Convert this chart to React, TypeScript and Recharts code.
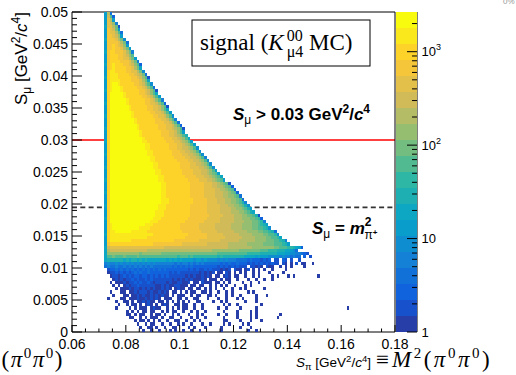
import React from 'react';
import { ScatterChart, Scatter, XAxis, YAxis, ReferenceLine } from 'recharts';

const SANS = '"Liberation Sans", Arial, Helvetica, sans-serif';
const SERIF = '"Liberation Serif", "Times New Roman", serif';

const WIDTH = 516;
const HEIGHT = 375;
const PLOT_LEFT = 72;
const PLOT_RIGHT = 395;
const PLOT_TOP = 12;
const PLOT_BOTTOM = 332;
const BAR_WIDTH = 21;

// axis ranges
const X_RANGE = [0.06, 0.18];
const Y_RANGE = [0, 0.05];

// histogram binning: first occupied S_pi bin edge and bin widths
const X_FIRST_BIN = 0.072;
const X_BIN = 0.001;
const Y_BIN = 0.0005;

// colour axis (log scale, 20 contours)
const Z_MIN = 1;
const Z_MAX = 2660;
const N_CONTOURS = 20;

const xMajorTicks = [0.06, 0.08, 0.1, 0.12, 0.14, 0.16, 0.18];
const xTickLabels = ['0.06', '0.08', '0.1', '0.12', '0.14', '0.16', '0.18'];
const xMinorTicks = [0.065, 0.07, 0.075, 0.085, 0.09, 0.095, 0.105, 0.11, 0.115, 0.125, 0.13, 0.135, 0.145, 0.15, 0.155, 0.165, 0.17, 0.175];

const yMajorTicks = [0, 0.005, 0.01, 0.015, 0.02, 0.025, 0.03, 0.035, 0.04, 0.045, 0.05];
const yTickLabels = ['0', '0.005', '0.01', '0.015', '0.02', '0.025', '0.03', '0.035', '0.04', '0.045', '0.05'];
const yMinorTicks = [
  0.001, 0.002, 0.003, 0.004, 0.006, 0.007, 0.008, 0.009, 0.011, 0.012, 0.013, 0.014,
  0.016, 0.017, 0.018, 0.019, 0.021, 0.022, 0.023, 0.024, 0.026, 0.027, 0.028, 0.029,
  0.031, 0.032, 0.033, 0.034, 0.036, 0.037, 0.038, 0.039, 0.041, 0.042, 0.043, 0.044,
  0.046, 0.047, 0.048, 0.049,
];

const zMajorTicks = [1, 10, 100, 1000];
const zTickLabels = [['1', ''], ['10', ''], ['10', '2'], ['10', '3']];
const zMinorTicks = [2, 3, 4, 5, 6, 7, 8, 9, 20, 30, 40, 50, 60, 70, 80, 90, 200, 300, 400, 500, 600, 700, 800, 900, 2000];

// reference lines
const S_MU_CUT = 0.03;
const M_PI_CHARGED_SQ = 0.01948;

// Contour level per bin, one string per S_mu row (bottom row first), one character per S_pi bin
// starting at X_FIRST_BIN. '.' = empty, '0'..'9','a'..'j' = contour 0..19.
const tailRows = [
  /* 0 */ '..............0..0..0...0.0..0..0..0.......0.........0..0......',
  /* 1 */ '.............0..00.0..0..00....0.0...0.....0......0...0......',
  /* 2 */ '............0..0.00..0..0..0.0..0...0..0....0.0....0.0......',
  /* 3 */ '...........0.00.0.0.0..0..00..0..0.0........00....0...0...0...',
  /* 4 */ '.........00..0.0.000.0..00..0...0.0..0......0....0....0.0.......0',
  /* 5 */ '........00.0.00..0.00.0..0.0...0..0.0.....0..0...0....0.0........0',
  /* 6 */ '........0.0.0.00.00..0.0.00..0..0.0..0......0....0....0.0...',
  /* 7 */ '....0....0.0.000.0100..0.0.0.00..0..0.....0..0....0.....0.................................0',
  /* 8 */ '.....0..0.00.0.010.0.010..00.00..0..0.......0.0..0........0..',
  /* 9 */ '....0..00.0.0010100.00.0.0.0.0.0..00....0..0.0......0...0...',
  /* 10 */ '.0....00.000100101010.000..00.0..00...0...0..0...0.0....0...',
  /* 11 */ '...0...00.00101001010100.0.000..0.00..00.0...0.0..0.....0...0',
  /* 12 */ '..0...00.001011101001010.00.0.0.00..00.0..0..0.0.....0.0....',
  /* 13 */ '....0.0001011010101001010.0100.00.00.0.0.0..0..0..0.0......0.',
  /* 14 */ '...0.0.010112111111001010011000.00.00..0.0.0.0..0...0.0.....',
  /* 15 */ '..0.0001011212112101111010011001.00.1000.00.0.0....0..0..0.',
  /* 16 */ '...01010112121121211111110101010100010.000.0.00..0...0..0..0..0',
  /* 17 */ '..01101212122122121212121111110101001010.00.010.00..0..0.0....0.0...0.0........0',
  /* 18 */ '.0112121212323223222222212121111111010101.00.10.0.0.0..0.0...0....0...',
  /* 19 */ '.1223232323232323232323222222221212112121110101.100.01.0.0.0..0....0..',
  /* 20 */ '34334334343434343433333332323232322222222212121212111.11010.100..0.0.0....0.',
  /* 21 */ '45445454545454545454444444343443434343333332323223222121212121211.10.0.1.00..0',
];

const bandRows = [
  /* 22 */ '78888887878878787777777676767666656656555545454443333232221212.11.21.1..1',
  /* 23 */ '7aabaaabaaaabaaaaaaaaaaaaaa9aaa9a9999999998988888888777767666555545443433.2.1',
  /* 24 */ '7ccccccccccccbcccccccbbbbbbbbbbbbbbbbbbbbbaaaaaaaaaaa99999888888777665544321',
  /* 25 */ '7deeeeeeeeeeeeeeddddddddddddddddddddddddccccccccccbbbbbbbbaaa99988877653',
  /* 26 */ '7effffffffffffffffffffeeeeeeeeeeeeeeeeeeeeeeeedddddddddccccccccbbaaa998762',
  /* 27 */ '6ghhhhhhhhhhhhhhhhgggggggggggfffffffffeeeeeeeedddddddccccccbbbbaaa986',
  /* 28 */ '6hiiiiiiiihhhhhhhhhhhhhhhhgggggggggffffffffeeeeeeeddddddccccbbbaa984',
  /* 29 */ '6hiiiiiiiiiiiiiihhhhhhhhhhhhhhggggggggfffffffeeeeeedddddccccbbaa97',
  /* 30 */ '7hiiiiiiiiiiiiiiiihhhhhhhhhhhhhgggggggffffffeeeeeedddddccccbbaa95',
  /* 31 */ '6hiijjjjjjiiiiiihhhhhhhhhhhhhgggggggffffffeeeeeedddddccccbbaa983',
  /* 32 */ '6hijjjjjjjjjjiiiihhhhhhhhhhhgggggggffffffeeeeeeddddccccbbaa985',
  /* 33 */ '6hijjjjjjjjjjjjiiihhhhhhhhhhgggggggffffffeeeeeeddddccccbba986',
];

const coreRows = [
  /* 34 */ '6hjjjjjjjjjjjjjjjiiihhhhhhhhhhgggggggffffffeeeeeddddcccbba94',
  /* 35 */ '7hjjjjjjjjjjjjjjjjiiihhhhhhhhhhgggggggfffffeeeeedddcccbba92',
  /* 36 */ '6hjjjjjjjjjjjjjjjjjiiihhhhhhhhhhgggggggfffffeeeedddccbba81',
  /* 37 */ '6hjjjjjjjjjjjjjjjjjiiihhhhhhhhhhggggggfffffeeeedddccba87',
  /* 38 */ '6hjjjjjjjjjjjjjjjjjjiiihhhhhhhhhggggggfffffeeeeddccba86',
  /* 39 */ '7hjjjjjjjjjjjjjjjjjjiiihhhhhhhhhggggggfffffeeeddccba85',
  /* 40 */ '6hjjjjjjjjjjjjjjjjjjjiiihhhhhhhhhgggggffffeeeddccba84',
  /* 41 */ '6hjjjjjjjjjjjjjjjjjjjiiihhhhhhhhhgggggffffeeeddccba3',
  /* 42 */ '6hjjjjjjjjjjjjjjjjjjjiihhhhhhhhhgggggffffeeeddccba3',
  /* 43 */ '7hjjjjjjjjjjjjjjjjjjjiihhhhhhhhhgggggffffeeeddcba2',
  /* 44 */ '6hjjjjjjjjjjjjjjjjjjjiihhhhhhhhhgggggffffeeddcba2',
  /* 45 */ '6hjjjjjjjjjjjjjjjjjjjiihhhhhhhhhgggggfffeeddcba2',
  /* 46 */ '6hjjjjjjjjjjjjjjjjjjjiihhhhhhhhhgggggfffeedcba1',
  /* 47 */ '7hjjjjjjjjjjjjjjjjjjiihhhhhhhhhggggfffeedcba6',
  /* 48 */ '6hjjjjjjjjjjjjjjjjjjiihhhhhhhhggggfffeedcba7',
  /* 49 */ '6hjjjjjjjjjjjjjjjjjiihhhhhhhhggggfffeedcba6',
  /* 50 */ '6hjjjjjjjjjjjjjjjjjiihhhhhhhhggggfffeedca6',
  /* 51 */ '7hjjjjjjjjjjjjjjjjiihhhhhhhhggggfffeedca5',
  /* 52 */ '6hjjjjjjjjjjjjjjjjiihhhhhhhhggggffeedca5',
  /* 53 */ '6hjjjjjjjjjjjjjjjiihhhhhhhhggggffeedca5',
  /* 54 */ '6hjjjjjjjjjjjjjjjiihhhhhhhggggffeedca4',
  /* 55 */ '7hjjjjjjjjjjjjjjiihhhhhhhggggffeedca5',
  /* 56 */ '6hjjjjjjjjjjjjjjiihhhhhhhgggffeedca5',
  /* 57 */ '6hjjjjjjjjjjjjjiihhhhhhhgggffeedca5',
  /* 58 */ '6hjjjjjjjjjjjjjiihhhhhhhgggffedca6',
  /* 59 */ '7hjjjjjjjjjjjjiihhhhhhhgggffedca6',
  /* 60 */ '6hjjjjjjjjjjjjihhhhhhhgggffedca7',
];

const apexRows = [
  /* 61 */ '6hjjjjjjjjjjjihhhhhhhgggffedca8',
  /* 62 */ '6hjjjjjjjjjjjihhhhhhhgggffeca6',
  /* 63 */ '7hjjjjjjjjjjihhhhhhhgggffedca1',
  /* 64 */ '6hjjjjjjjjjjihhhhhhhgggffeca2',
  /* 65 */ '6hjjjjjjjjjihhhhhhhgggffeca3',
  /* 66 */ '6hjjjjjjjjjihhhhhhhggffeca4',
  /* 67 */ '7hjjjjjjjjihhhhhhhggffeca5',
  /* 68 */ '6hjjjjjjjjihhhhhhggffeca6',
  /* 69 */ '6hjjjjjjjihhhhhhggffeca7',
  /* 70 */ '6hjjjjjjjihhhhhhggffeca1',
  /* 71 */ '7hjjjjjjihhhhhhggffeca2',
  /* 72 */ '6hjjjjjjihhhhhhggfeca4',
  /* 73 */ '6hjjjjjihhhhhhggfeca6',
  /* 74 */ '6hjjjjjihhhhhggfeca7',
  /* 75 */ '7hijjjihhhhhhggfeca1',
  /* 76 */ '6hijjjihhhhhggfeca3',
  /* 77 */ '6hijjihhhhhggfeca5',
  /* 78 */ '6hiiiihhhhgggfdb7',
  /* 79 */ '7hiiihhhhhggfeca1',
  /* 80 */ '6hiiihhhhggfedb3',
  /* 81 */ '6hiihhhhggffdb5',
  /* 82 */ '6ghihhhhggfdb7',
  /* 83 */ '7ghihhhggfeca2',
  /* 84 */ '6ghhhhgggfdb4',
  /* 85 */ '6ghhhggffdb6',
  /* 86 */ '6ghhhggfeca',
  /* 87 */ '7ghhgggfdb4',
  /* 88 */ '6gghggfdb6',
  /* 89 */ '6gghgfec6',
  /* 90 */ '6ggggfdb3',
  /* 91 */ '7gggfdb5',
  /* 92 */ '6ggfec6',
  /* 93 */ '6gffda3',
  /* 94 */ '6gfeb6',
  /* 95 */ '7ffdb1',
  /* 96 */ '6fec4',
  /* 97 */ '6fd6',
  /* 98 */ '6ea2',
  /* 99 */ '6d3',
];

// kBird palette stops
const birdStops = [0, 0.125, 0.25, 0.375, 0.5, 0.625, 0.75, 0.875, 1];
const birdRed = [0.2082, 0.0592, 0.078, 0.0232, 0.1802, 0.5301, 0.8186, 0.9956, 0.9764];
const birdGreen = [0.1664, 0.3599, 0.5041, 0.6419, 0.7178, 0.7492, 0.7328, 0.7862, 0.9832];
const birdBlue = [0.5293, 0.8684, 0.8385, 0.7914, 0.6425, 0.4662, 0.3499, 0.1968, 0.0539];

function birdColor(t: number): string {
  let s = 0;
  while (s < birdStops.length - 2 && t > birdStops[s + 1]) s++;
  const f = (t - birdStops[s]) / (birdStops[s + 1] - birdStops[s]);
  const ch = (arr: number[]) => Math.round(255 * (arr[s] + (arr[s + 1] - arr[s]) * f));
  return `rgb(${ch(birdRed)},${ch(birdGreen)},${ch(birdBlue)})`;
}

const contourColors = Array.from({ length: N_CONTOURS }, (_, k) =>
  birdColor(Math.floor(((k + 0.99) * 255) / N_CONTOURS) / 254),
);

const LOG_SPAN = Math.log10(Z_MAX / Z_MIN);
const contourBands = contourColors.map((_, k) => ({
  x: 0.5,
  z: Z_MIN * Math.pow(10, ((k + 0.5) * LOG_SPAN) / N_CONTOURS),
  level: k,
}));

const histogramRows = [...tailRows, ...bandRows, ...coreRows, ...apexRows];
const cells: { x: number; y: number; level: number }[] = [];
histogramRows.forEach((row, j) => {
  for (let i = 0; i < row.length; i++) {
    const c = row[i];
    if (c === '.') continue;
    cells.push({ x: X_FIRST_BIN + (i + 0.5) * X_BIN, y: (j + 0.5) * Y_BIN, level: parseInt(c, 20) });
  }
});

const CELL_W = (X_BIN / (X_RANGE[1] - X_RANGE[0])) * (PLOT_RIGHT - PLOT_LEFT);
const CELL_H = (Y_BIN / (Y_RANGE[1] - Y_RANGE[0])) * (PLOT_BOTTOM - PLOT_TOP);
const BAND_H = (PLOT_BOTTOM - PLOT_TOP) / N_CONTOURS;

const allXTicks = [...xMajorTicks, ...xMinorTicks].sort((a, b) => a - b);
const allYTicks = [...yMajorTicks, ...yMinorTicks].sort((a, b) => a - b);
const allZTicks = [...zMajorTicks, ...zMinorTicks].sort((a, b) => a - b);

const majorIndex = (list: number[], v: number) => list.findIndex((m) => Math.abs(m - v) < 1e-9);

const BinCell = (props: any) => {
  const { cx, cy, payload } = props;
  if (cx == null || cy == null) return null;
  return (
    <rect
      x={cx - CELL_W / 2}
      y={cy - CELL_H / 2}
      width={CELL_W}
      height={CELL_H}
      fill={contourColors[payload.level]}
      shapeRendering="crispEdges"
    />
  );
};

const BandCell = (props: any) => {
  const { cx, cy, payload } = props;
  if (cx == null || cy == null) return null;
  return (
    <rect
      x={cx - BAR_WIDTH / 2}
      y={cy - BAND_H / 2}
      width={BAR_WIDTH}
      height={BAND_H}
      fill={contourColors[payload.level]}
      shapeRendering="crispEdges"
    />
  );
};

const XTick = (props: any) => {
  const { x, payload } = props;
  const idx = majorIndex(xMajorTicks, payload.value);
  const len = idx >= 0 ? 7 : 3.5;
  return (
    <g>
      <line x1={x} x2={x} y1={PLOT_BOTTOM} y2={PLOT_BOTTOM - len} stroke="#000" strokeWidth={1} />
      {idx >= 0 && (
        <text x={x} y={PLOT_BOTTOM + 17} textAnchor="middle" fontFamily={SANS} fontSize={14} fill="#000">
          {xTickLabels[idx]}
        </text>
      )}
    </g>
  );
};

const YTick = (props: any) => {
  const { y, payload } = props;
  const idx = majorIndex(yMajorTicks, payload.value);
  const len = idx >= 0 ? 10 : 5;
  return (
    <g>
      <line x1={PLOT_LEFT} x2={PLOT_LEFT + len} y1={y} y2={y} stroke="#000" strokeWidth={1} />
      {idx >= 0 && (
        <text x={PLOT_LEFT - 4} y={y + 5} textAnchor="end" fontFamily={SANS} fontSize={14} fill="#000">
          {yTickLabels[idx]}
        </text>
      )}
    </g>
  );
};

const ZTick = (props: any) => {
  const { y, payload } = props;
  const idx = majorIndex(zMajorTicks, payload.value);
  const len = idx >= 0 ? 10 : 5;
  return (
    <g>
      <line x1={BAR_WIDTH} x2={BAR_WIDTH - len} y1={y} y2={y} stroke="#000" strokeWidth={1} />
      {idx >= 0 && (
        <text x={BAR_WIDTH + 4.5} y={y + 4.5} fontFamily={SANS} fontSize={13} fill="#000">
          {zTickLabels[idx][0]}
          {zTickLabels[idx][1] && (
            <tspan fontSize={9} dy={-6}>
              {zTickLabels[idx][1]}
            </tspan>
          )}
        </text>
      )}
    </g>
  );
};

export default function App() {
  return (
    <div style={{ position: 'absolute', left: 0, top: 0, width: WIDTH, height: HEIGHT, background: '#fff', overflow: 'hidden' }}>
      <div style={{ position: 'absolute', left: 0, top: 0 }}>
        <ScatterChart
          width={WIDTH}
          height={HEIGHT}
          margin={{ top: PLOT_TOP, right: WIDTH - PLOT_RIGHT, bottom: 0, left: 0 }}
        >
          <XAxis
            type="number"
            dataKey="x"
            domain={X_RANGE}
            ticks={allXTicks}
            interval={0}
            allowDataOverflow
            height={HEIGHT - PLOT_BOTTOM}
            tick={<XTick />}
            tickLine={false}
            axisLine={false}
          />
          <YAxis
            type="number"
            dataKey="y"
            domain={Y_RANGE}
            ticks={allYTicks}
            interval={0}
            allowDataOverflow
            width={PLOT_LEFT}
            tick={<YTick />}
            tickLine={false}
            axisLine={false}
          />
          <Scatter data={cells} shape={<BinCell />} isAnimationActive={false} />
          <ReferenceLine y={S_MU_CUT} stroke="#ff0000" strokeWidth={1.5} />
          <ReferenceLine y={M_PI_CHARGED_SQ} stroke="#333" strokeWidth={1.6} strokeDasharray="5 3.3" />
          <ReferenceLine x={X_RANGE[0]} stroke="#000" strokeWidth={1} />
          <ReferenceLine x={X_RANGE[1]} stroke="#000" strokeWidth={1} />
          <ReferenceLine y={Y_RANGE[0]} stroke="#000" strokeWidth={1} />
          <ReferenceLine y={Y_RANGE[1]} stroke="#000" strokeWidth={1} />
        </ScatterChart>
      </div>

      <div style={{ position: 'absolute', left: PLOT_RIGHT + 1, top: 0 }}>
        <ScatterChart width={120} height={HEIGHT} margin={{ top: PLOT_TOP, right: 0, bottom: HEIGHT - PLOT_BOTTOM, left: 0 }}>
          <XAxis type="number" dataKey="x" domain={[0, 1]} hide />
          <YAxis
            type="number"
            dataKey="z"
            scale="log"
            domain={[Z_MIN, Z_MAX]}
            orientation="right"
            width={120 - BAR_WIDTH}
            ticks={allZTicks}
            interval={0}
            allowDataOverflow
            tick={<ZTick />}
            tickLine={false}
            axisLine={{ stroke: '#000', strokeWidth: 1 }}
          />
          <Scatter data={contourBands} shape={<BandCell />} isAnimationActive={false} />
        </ScatterChart>
      </div>

      <svg width={WIDTH} height={HEIGHT} style={{ position: 'absolute', left: 0, top: 0, pointerEvents: 'none' }}>
        {/* y-axis title */}
        <text transform="translate(27,12) rotate(-90)" textAnchor="end" fontFamily={SANS} fontSize={17} fill="#000">
          <tspan>S</tspan>
          <tspan fontSize={12} dy={4}>μ</tspan>
          <tspan dy={-4}> [GeV</tspan>
          <tspan fontSize={12} dy={-7}>2</tspan>
          <tspan dy={7}>/</tspan>
          <tspan fontStyle="italic">c</tspan>
          <tspan fontSize={12} dy={-7}>4</tspan>
          <tspan dy={7}>]</tspan>
        </text>

        {/* x-axis title */}
        <text x={296} y={367} fontFamily={SANS} fontSize={13.5} fill="#000">
          <tspan fontStyle="italic">S</tspan>
          <tspan fontSize={9.5} dy={3}>π</tspan>
          <tspan dy={-3}> [GeV</tspan>
          <tspan fontSize={9.5} dy={-5}>2</tspan>
          <tspan dy={5}>/</tspan>
          <tspan fontStyle="italic">c</tspan>
          <tspan fontSize={9.5} dy={-5}>4</tspan>
          <tspan dy={5}>]</tspan>
        </text>
        <text x={376} y={367} fontFamily={SERIF} fontSize={23} fill="#000">≡</text>
        <text x={392} y={367} fontFamily={SERIF} fontSize={23} letterSpacing={2.5} fill="#000">
          <tspan fontStyle="italic">M</tspan>
          <tspan fontSize={15} dy={-9}>2</tspan>
          <tspan dy={9}>(</tspan>
          <tspan fontStyle="italic">π</tspan>
          <tspan fontSize={15} dy={-9}>0</tspan>
          <tspan dy={9} fontStyle="italic">π</tspan>
          <tspan fontSize={15} dy={-9}>0</tspan>
          <tspan dy={9}>)</tspan>
        </text>
        <text x={64} y={367} textAnchor="end" fontFamily={SERIF} fontSize={23} letterSpacing={1.5} fill="#000">
          <tspan>(</tspan>
          <tspan fontStyle="italic">π</tspan>
          <tspan fontSize={15} dy={-9}>0</tspan>
          <tspan dy={9} fontStyle="italic">π</tspan>
          <tspan fontSize={15} dy={-9}>0</tspan>
          <tspan dy={9}>)</tspan>
        </text>

        {/* sample label */}
        <rect x={192} y={20} width={178} height={46} fill="#fff" stroke="#000" strokeWidth={1} />
        <text x={200} y={50} fontFamily={SERIF} fontSize={23} fill="#000">
          <tspan>signal (</tspan>
          <tspan fontStyle="italic">K</tspan>
          <tspan fontSize={16} dx={3} dy={-9}>00</tspan>
          <tspan fontSize={16} dx={-16} dy={16}>μ4</tspan>
          <tspan dy={-7}> MC)</tspan>
        </text>

        {/* cut annotations */}
        <text x={233} y={120} fontFamily={SANS} fontSize={17} fontWeight="bold" fill="#000">
          <tspan fontStyle="italic">S</tspan>
          <tspan fontSize={12} fontWeight="normal" dy={4}>μ</tspan>
          <tspan dy={-4}> &gt; 0.03 GeV</tspan>
          <tspan fontSize={12} dy={-7}>2</tspan>
          <tspan dy={7}>/</tspan>
          <tspan fontStyle="italic">c</tspan>
          <tspan fontSize={12} dy={-7}>4</tspan>
        </text>
        <text x={312} y={234} fontFamily={SANS} fontSize={17} fontWeight="bold" fill="#000">
          <tspan fontStyle="italic">S</tspan>
          <tspan fontSize={12} fontWeight="normal" dy={4}>μ</tspan>
          <tspan dy={-4}> = </tspan>
          <tspan fontStyle="italic">m</tspan>
          <tspan fontSize={12} dy={-8}>2</tspan>
          <tspan fontSize={12} fontWeight="normal" dx={-7} dy={13}>π</tspan>
          <tspan fontSize={8} dy={-4}>+</tspan>
        </text>

        <text x={503} y={4} fontFamily={SANS} fontSize={8} fill="#999">0%</text>
      </svg>
    </div>
  );
}
